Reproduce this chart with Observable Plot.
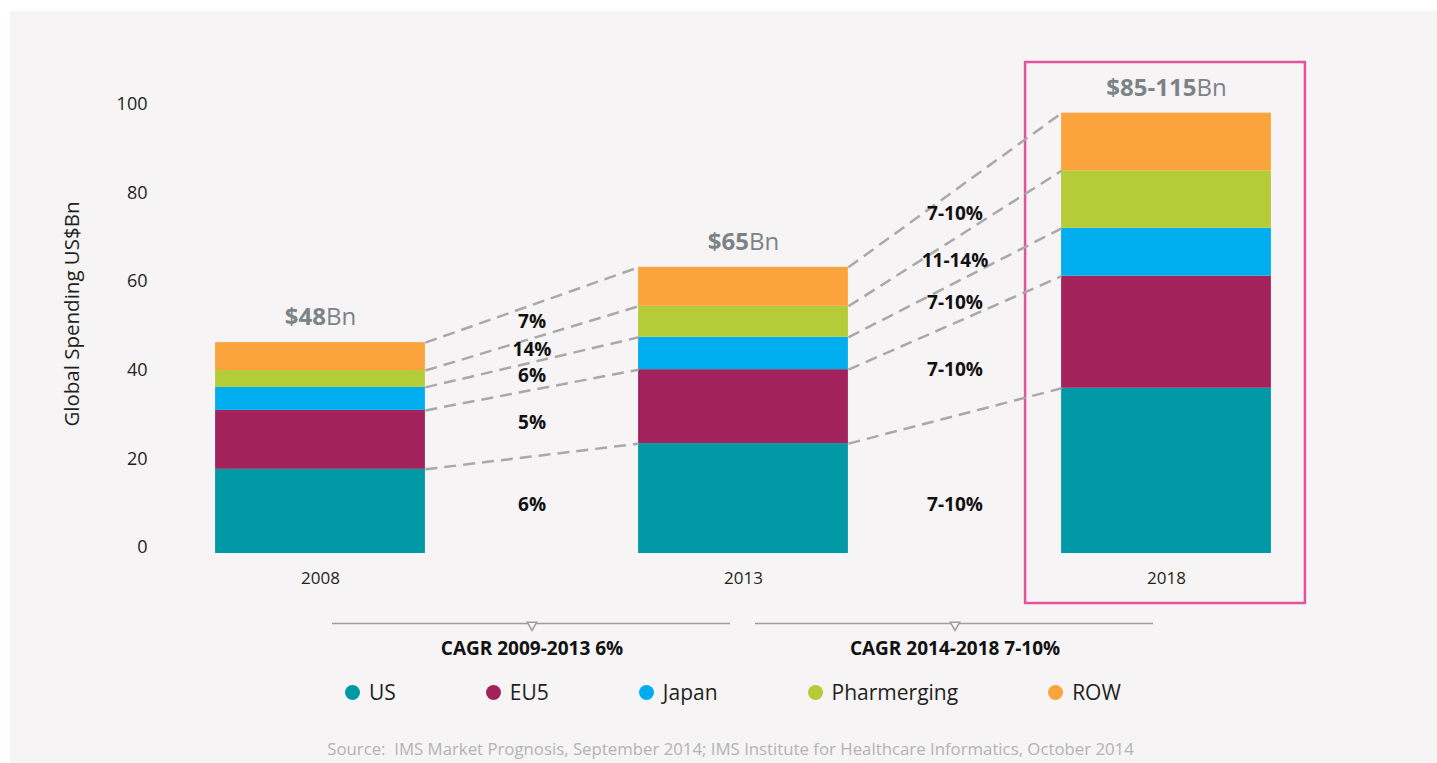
<!DOCTYPE html>
<html>
<head>
<meta charset="utf-8">
<script src="https://cdn.jsdelivr.net/npm/d3@7"></script>
<script src="https://cdn.jsdelivr.net/npm/@observablehq/plot@0.6"></script>
<style>
  html, body { margin: 0; padding: 0; background: #ffffff; }
  body { font-family: "Open Sans", sans-serif; }
  #wrap { position: relative; width: 1437px; height: 763px; overflow: hidden; }
  #panel { position: absolute; left: 10px; top: 11px; width: 1427px; height: 752px; background: #f6f4f5; }
  #chart { position: absolute; left: 0; top: 0; }
  #legend { position: absolute; top: 678px; left: 345px; display: flex; font-size: 21px; line-height: 28px; color: #231f20; }
  #legend .item { display: flex; align-items: center; margin-right: 90px; }
  #legend .dot { width: 15px; height: 15px; border-radius: 50%; margin-right: 9px; }
  #source { position: absolute; top: 737px; left: 0; width: 1461px; text-align: center; font-size: 16.8px; color: #b3b3b3; white-space: pre; }
</style>
</head>
<body>
<div id="wrap">
  <div id="panel"></div>
  <div id="chart"></div>
  <div id="legend"></div>
  <div id="source"></div>
</div>
<script>
// ---- data ----
const years = [2008, 2013, 2018];
const regions = ["US", "EU5", "Japan", "Pharmerging", "ROW"];
const regionColors = ["#0099a5", "#a2225c", "#00aeef", "#b5cc39", "#fba43d"];
const us = [19.0, 24.8, 37.3];
const eu5 = [13.3, 16.7, 25.3];
const japan = [5.2, 7.3, 10.8];
const pharmerging = [3.8, 7.0, 13.0];
const row = [6.3, 8.8, 13.0];
const totalAmounts = ["$48", "$65", "$85-115"];
const growth2009_2013 = ["6%", "5%", "6%", "14%", "7%"];
const growth2014_2018 = ["7-10%", "7-10%", "7-10%", "11-14%", "7-10%"];
const periodLabels = ["CAGR 2009-2013 6%", "CAGR 2014-2018 7-10%"];
const yTicks = [0, 20, 40, 60, 80, 100];
const yLabel = "Global Spending US$Bn";
const sourceText = "Source:  IMS Market Prognosis, September 2014; IMS Institute for Healthcare Informatics, October 2014";

// ---- derived tables ----
const BAR_HALF = 1.24; // half bar width in years
const seriesValues = [us, eu5, japan, pharmerging, row];
const growthByPeriod = [growth2009_2013, growth2014_2018];

const segments = [];
const cum = years.map(() => []);
years.forEach((yr, i) => {
  let acc = 0;
  regions.forEach((r, k) => {
    const v = seriesValues[k][i];
    segments.push({year: yr, region: r, y1: acc, y2: acc + v});
    cum[i].push({lo: acc, hi: acc + v});
    acc += v;
  });
});
const tops = years.map((yr, i) => ({year: yr, top: d3.sum(seriesValues, s => s[i]), amount: totalAmounts[i]}));

const links = [];
const rates = [];
for (let i = 0; i < years.length - 1; i++) {
  regions.forEach((r, k) => {
    links.push({x1: years[i] + BAR_HALF, y1: cum[i][k].hi, x2: years[i + 1] - BAR_HALF, y2: cum[i + 1][k].hi});
    const midA = (cum[i][k].lo + cum[i][k].hi) / 2, midB = (cum[i + 1][k].lo + cum[i + 1][k].hi) / 2;
    const usMid = ((cum[0][0].lo + cum[0][0].hi) / 2 + (cum[1][0].lo + cum[1][0].hi) / 2) / 2;
    rates.push({x: (years[i] + years[i + 1]) / 2, y: k === 0 ? usMid : (midA + midB) / 2, text: growthByPeriod[i][k]});
  });
}
const periods = periodLabels.map((label, i) => ({label, start: years[i], end: years[i + 1]}));

const bg = "#f6f4f5";
const plot = Plot.plot({
  width: 1437,
  height: 665,
  marginLeft: 150,
  marginRight: 0,
  marginTop: 110,
  marginBottom: 112,
  style: {background: "transparent", fontFamily: '"Open Sans", sans-serif', color: "#231f20", overflow: "visible"},
  x: {domain: [2008, 2018], range: [320, 1166]},
  y: {domain: [0, 100]},
  color: {domain: regions, range: regionColors},
  marks: [
    Plot.axisY({ticks: yTicks, tickSize: 0, tickPadding: 3, dy: -6, fontSize: 18, label: null}),
    Plot.axisX({ticks: years, tickFormat: "d", tickSize: 0, tickPadding: 18, fontSize: 17, label: null}),
    Plot.text([yLabel], {frameAnchor: "left", textAnchor: "middle", rotate: -90, dx: -78, dy: -18, fontSize: 20.5, fill: "#231f20"}),
    Plot.rect(segments, {x1: d => d.year - BAR_HALF, x2: d => d.year + BAR_HALF, y1: "y1", y2: "y2", fill: "region"}),
    Plot.rect([years[2]], {x1: d => d - BAR_HALF, x2: d => d + BAR_HALF, y1: () => 0, y2: () => 100,
      insetLeft: -36, insetRight: -34, insetTop: -48, insetBottom: -50, fill: "none", stroke: "#e6519d", strokeWidth: 2.5}),
    Plot.link(links, {x1: "x1", y1: "y1", x2: "x2", y2: "y2", stroke: "#a9a9a9", strokeWidth: 2.5, strokeDasharray: "12,7"}),
    Plot.text(rates, {x: "x", y: "y", text: "text", fontWeight: "bold", fontSize: 19, fill: "#111"}),
    Plot.text(tops, {x: "year", y: "top", text: d => d.amount + "Bn", dy: -25, fontSize: 24, fill: "#7c8386", className: "totals"}),
    Plot.ruleY(periods, {y: () => 0, x1: "start", x2: "end", dy: 70, insetLeft: 12, insetRight: 13, stroke: "#9d9d9d", strokeWidth: 1.5}),
    Plot.dot(periods, {x: d => (d.start + d.end) / 2, y: () => 0, dy: 71.5, symbol: "triangle", rotate: 180, r: 3.5, fill: bg, stroke: "#9d9d9d", strokeWidth: 1.5}),
    Plot.text(periods, {x: d => (d.start + d.end) / 2, y: () => 0, dy: 95, text: "label", fontWeight: "bold", fontSize: 19, fill: "#111"})
  ]
});
document.getElementById("chart").appendChild(plot);

// bold amount + regular "Bn"
d3.select(plot).selectAll(".totals text").each(function () {
  const t = this.textContent;
  const amt = t.replace(/Bn$/, "");
  const sel = d3.select(this);
  sel.text(null);
  sel.append("tspan").attr("font-weight", "bold").text(amt);
  sel.append("tspan").attr("font-weight", "normal").text("Bn");
});

// legend
const legend = d3.select("#legend");
regions.forEach((r, k) => {
  const item = legend.append("div").attr("class", "item");
  item.append("span").attr("class", "dot").style("background", regionColors[k]);
  item.append("span").text(r);
});
document.getElementById("source").textContent = sourceText;
</script>
</body>
</html>
